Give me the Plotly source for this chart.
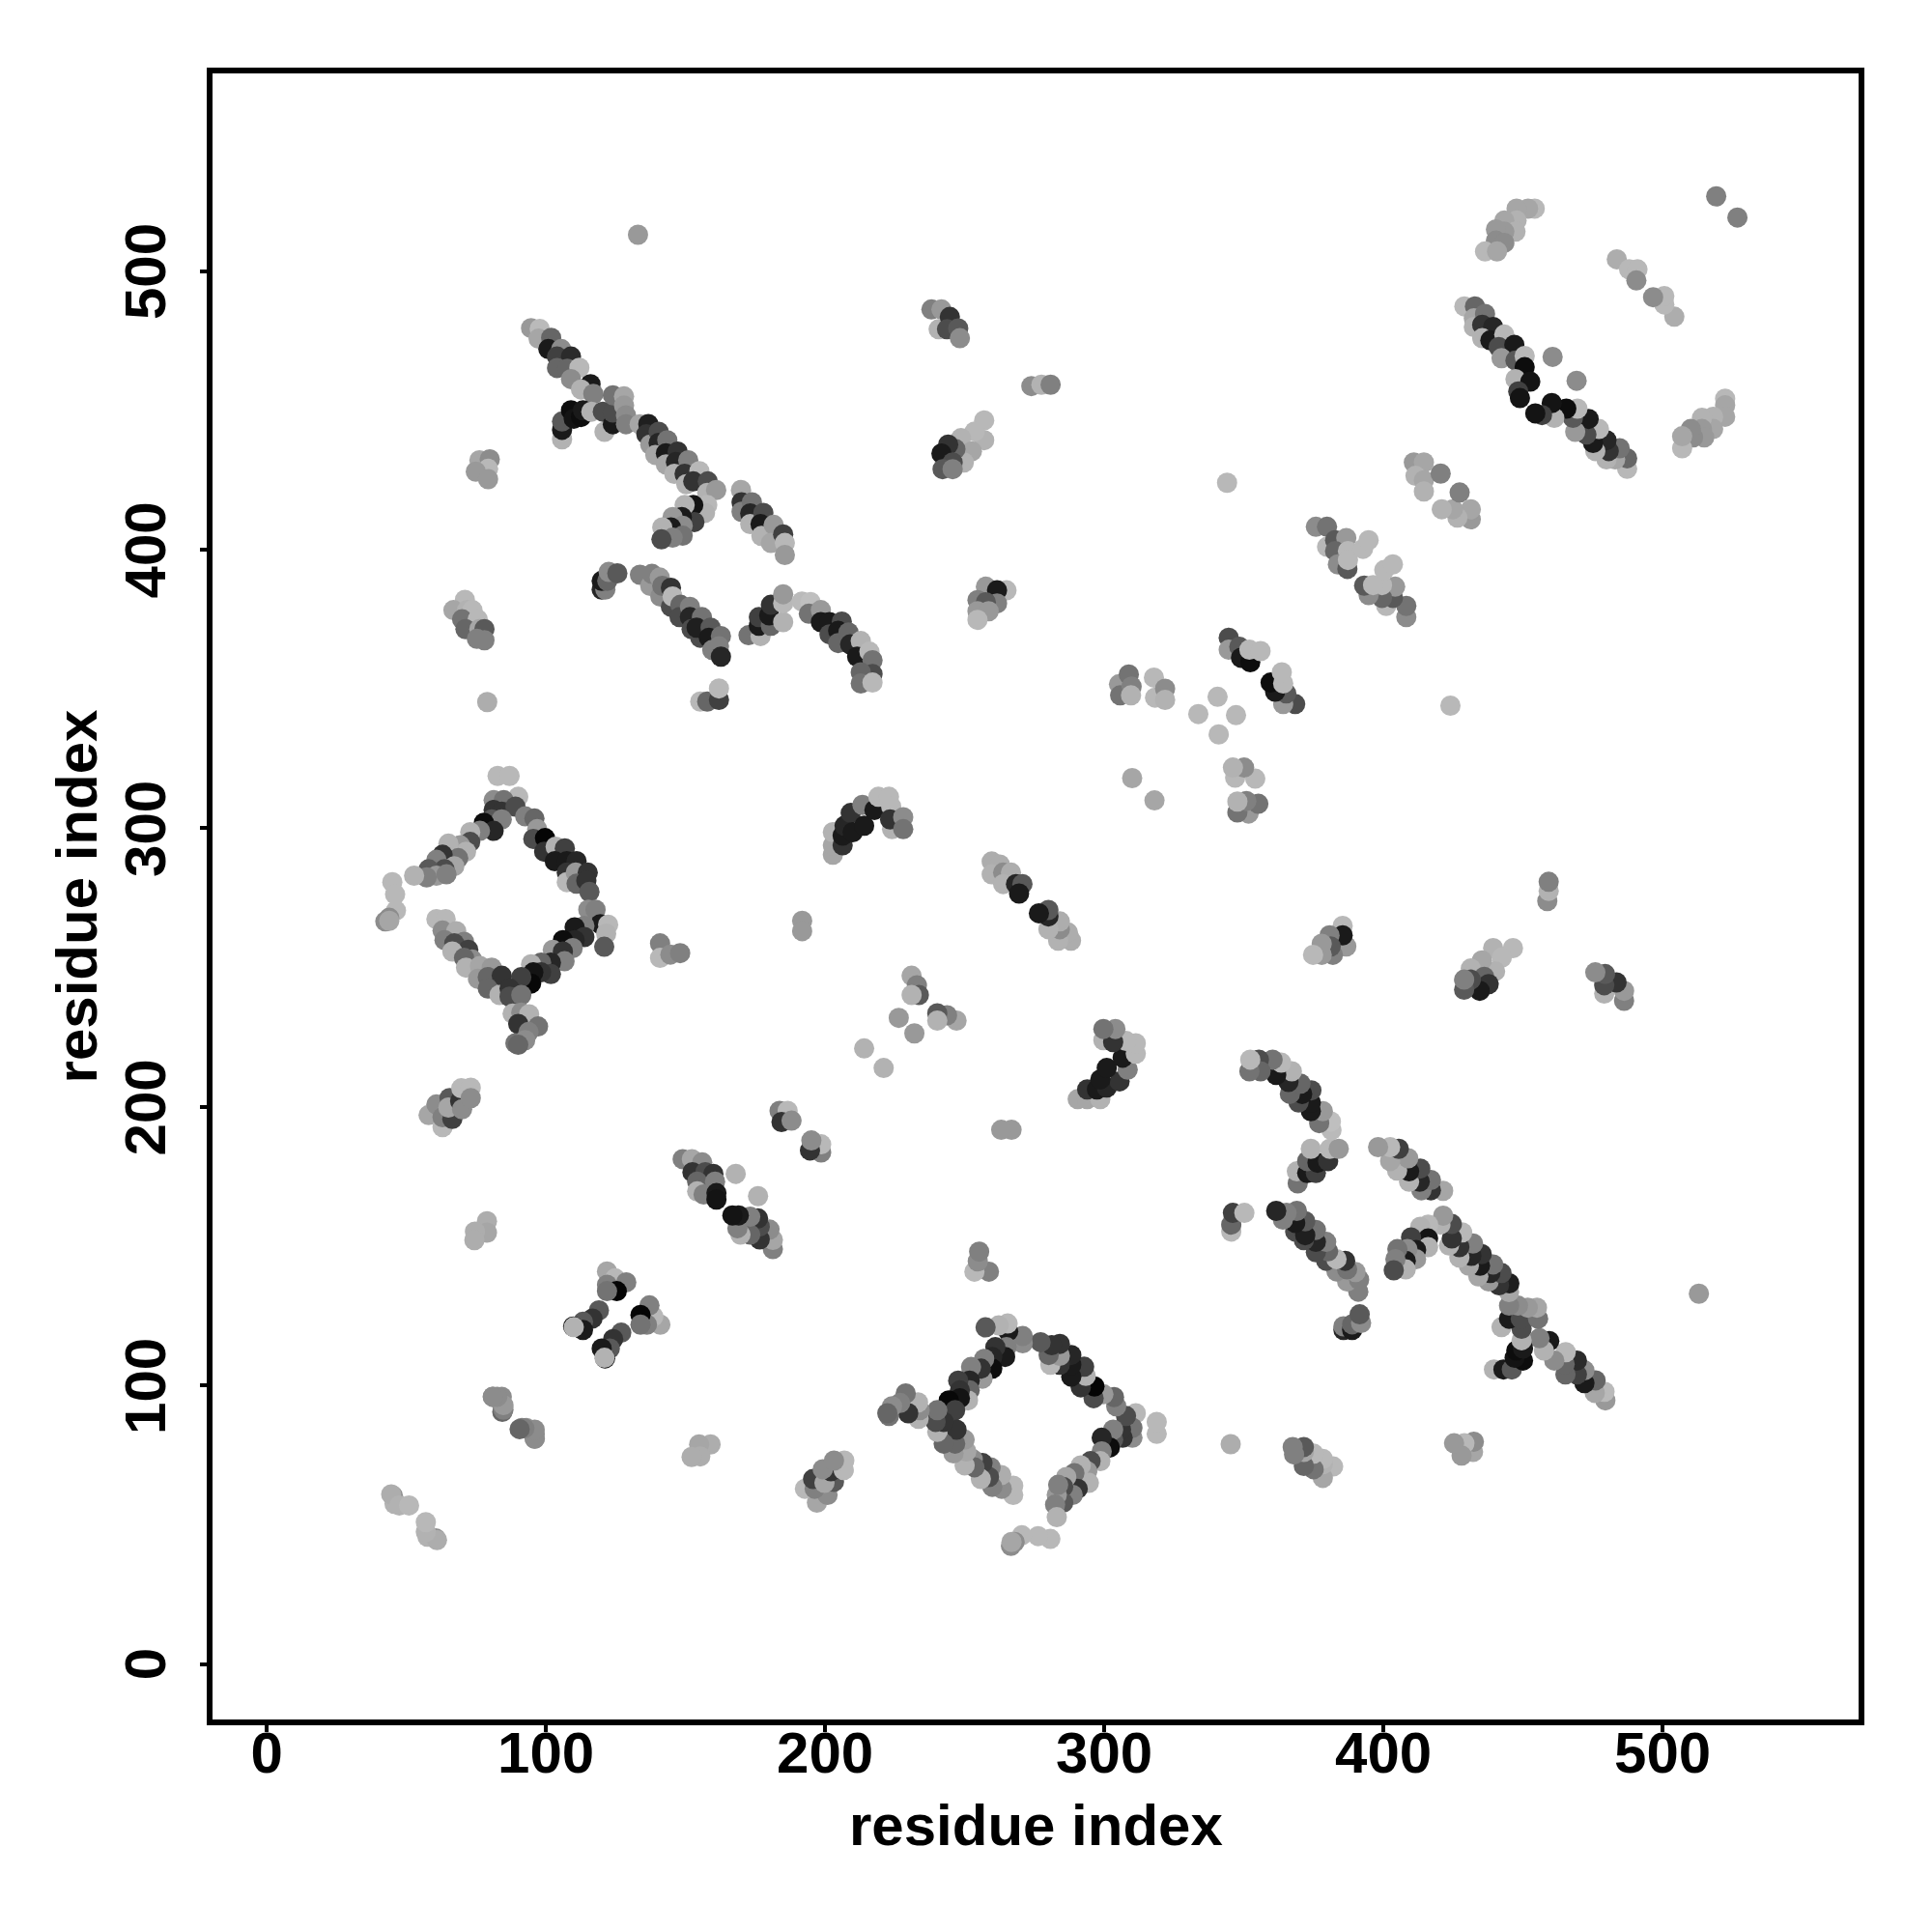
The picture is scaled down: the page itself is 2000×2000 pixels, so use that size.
import plotly.graph_objects as go

# Upper-triangle contacts as (residue_i, residue_j, shade); the map is symmetric.
streak_a = [(94.7,479.5,.6),(97.8,479.2,.73),(97.4,475.7,.65),(101.9,476,.4),(100.9,472,.1),(105.5,472,.55),(104,469.3,.25),(109,469.3,.17),(104,465.2,.4),(107.7,464.9,.4),(112,465.3,.72),(109,461.2,.55),(116,459.4,.1),(112.6,457.5,.7),(117,455.9,.5)]
knot_a = [(105.8,439.6,.7),(105.8,443,.1),(105.8,446,.35),(109,450,.05),(110,447,.08),(112.6,447.6,.05),(113.3,450,.1),(116.3,449.5,.7),(121,442.3,.7),(120.4,449.5,.3),(124,445,.1),(124,449.2,.3),(124,455.4,.45),(128,455,.65),(128,451.7,.6),(128.7,448.2,.55),(128.7,445,.5),(133.6,445,.65)]
streak_b = [(136.7,445.1,.12),(136,441.4,.2),(137.4,437.7,.6),(140.4,442.3,.3),(140.4,438.3,.15),(139.2,434,.65),(143.5,439.3,.45),(143,434.6,.1),(147.2,435.2,.2),(143,430.6,.65),(146.6,431.5,.15),(151,432.1,.5),(146,427.2,.7),(149.7,427.2,.2),(155,428.2,.72),(150.3,423.5,.7),(152.8,424.5,.2),(158,424.5,.3),(157.8,420.4,.7),(161,421.4,.6)]
cluster_c = [(157.8,416,.72),(157,413.2,.7),(152.8,416,.08),(149.7,416,.7),(153.2,409.9,.25),(148.7,411.7,.1),(145.4,411.7,.6),(149,408.6,.55),(144.8,408,.1),(141.7,408,.7),(149,405,.45),(145.4,404.3,.5),(141.4,403.7,.3)]
streak_d = [(169.9,421.4,.65),(170.1,417,.2),(170.1,413.6,.5),(173.8,417,.45),(173.2,413,.15),(173.2,409.2,.7),(177.9,413.2,.3),(176.9,409.2,.1),(177.2,404.9,.7),(181.6,408.9,.6),(180.6,402.4,.65),(185,405.5,.25),(185.6,402.4,.72),(185.6,398.1,.6)]
small_top = [(76.2,432.1,.65),(79.9,432.4,.55),(79.3,429,.72),(74.9,428,.6),(79.3,425.3,.6),(133,513,.6),(79,345.3,.68)]
small_left = [(71,382,.72),(66.9,378.3,.65),(71.8,378.3,.7),(73.7,378.3,.72),(70,375,.45),(75.6,375,.72),(71.2,371.5,.4),(76.2,371.5,.65),(78,371.5,.35),(75.3,368,.5),(78,367.5,.5)]
knot_e = [(120,385.7,.15),(121.3,385.7,.5),(120,388.8,.1),(122,388.8,.4),(122.5,392,.55),(125.6,391.5,.35)]
streak_e = [(133.7,391,.5),(137.4,387,.6),(138,391.3,.5),(140.8,390,.6),(141,383.2,.55),(141.7,387,.45),(144.8,386.3,.2),(144.8,379.5,.3),(145.4,383.2,.72),(148.2,380.2,.4),(147.9,375.8,.3),(151.6,379.5,.5),(151.6,375.8,.15),(155.9,375.8,.45),(152.2,371.5,.3),(155.3,368.4,.3),(154,372,.12),(159,372,.35),(158.4,368.4,.1),(159.6,364,.5),(162.7,369,.45),(162,365.3,.5),(162.7,361.6,.15)]
rise_f = [(172.6,369.3,.45),(176.9,369,.7),(176.3,372.7,.1),(176.3,375.8,.25),(180.6,372.7,.4),(180,376.4,.1),(180.6,380.2,.2),(185,374,.7),(185,380.8,.72),(185,384,.6)]
streak_f = [(191.7,381.4,.73),(194.8,381.2,.75),(194.2,377,.45),(198.5,378.3,.6),(198.5,374,.1),(201.6,374,.1),(206,374.2,.3),(201.6,369.6,.3),(204.7,370.9,.1),(204.7,366.5,.4),(208.4,370.3,.4),(209,366,.15),(212.8,367.2,.7),(211.5,361.6,.1),(215.9,363.4,.72),(217,360.3,.45),(217,355.4,.3),(212.8,356,.4),(212.8,352,.45),(217,352.3,.72)]
foot_f = [(155.3,345.5,.72),(157.8,345.5,.4),(162,346.1,.25),(162,350.2,.72)]
cluster_g = [(238.1,486.2,.5),(241.7,486.2,.6),(240.7,479.1,.7),(244.7,483.5,.2),(243.7,479.1,.3),(247.7,479.4,.35),(248.3,475.9,.55)]
row_h = [(273.9,458.7,.55),(277.5,459.2,.7),(280.8,459.2,.5),(344,424,.72)]
cluster_h = [(257,446.4,.72),(257,439.3,.7),(253.6,442.4,.72),(248.7,440,.7),(252.6,435.3,.65),(249.7,431.3,.7),(246.7,436.1,.4),(244.1,437.7,.2),(241.7,434.5,.1),(245.7,431.3,.3),(242.1,428.9,.35),(245.7,428.9,.5)]
cluster_i = [(454.2,522.4,.72),(451.8,522.4,.65),(447.7,522.4,.65),(447.7,518.1,.7),(443.3,518.1,.65),(447.3,514.1,.7),(443.3,514.1,.6),(440.3,514.9,.6),(440.3,510.9,.55),(443.3,510.1,.55),(436.4,507,.72),(440.7,507,.65),(519.2,526.8,.5),(483.6,504.2,.68),(488,500.6,.72),(491,500.6,.72),(490.6,496.6,.55)]
streak_k = [(429,487.3,.72),(432.8,487.3,.4),(432.4,483,.65),(436.4,484.6,.45),(432.4,479.9,.7),(435.4,480.7,.2),(439.3,479.9,.15),(435.4,475.9,.7),(438.3,475.1,.1),(443.3,477.2,.72),(441.3,472.7,.3),(446.9,473.5,.1),(442.3,468.7,.6),(447.3,467.9,.35),(450.6,469.5,.72),(450.6,465.5,.05),(447.3,461.2,.7),(452.6,460.3,.08),(448.3,456.8,.25),(448.9,454.4,.08),(460.6,469.2,.55)]
cluster_m = [(410.9,431.3,.6),(414.5,431.3,.65),(411.5,426.5,.7),(414.5,424.9,.65),(420.5,427.3,.5),(414.5,420.9,.7)]
cluster_n = [(375.8,408.2,.55),(379.8,408.2,.45),(379.8,401,.72),(382.7,403.4,.35),(386.7,404.2,.6),(382.7,399.5,.4),(387.3,399.5,.72),(383.7,394.7,.55),(387.1,393.1,.35),(387.3,396.3,.72),(392.7,400.3,.72),(394.7,403.4,.72)]
cluster_o = [(257.6,386.7,.6),(265,385.4,.72),(261.6,385.4,.1),(254.6,381.9,.5),(261.6,380.7,.5),(257.6,381.1,.35),(254.6,377.9,.6),(258.6,377.9,.6),(254.6,374.8,.72)]
cluster_p = [(344.6,368.4,.3),(344.6,364.1,.6),(348.4,365.2,.35),(349,361.2,.1),(352.3,359.6,.05),(352,364.1,.72),(356,363.6,.72)]
cluster_q = [(305.3,351.7,.6),(308.8,355.2,.45),(305.7,347.7,.45),(309.8,350.9,.5),(309.6,347.7,.7),(317.8,354.1,.72),(318.2,346.9,.72),(321.8,350.1,.55),(321.8,346.1,.7)]
singles_q = [(340.6,347.2,.72),(333.7,341,.72),(310,318,.65),(214,221,.7),(226.4,232,.6),(191.8,266.8,.6),(191.8,263.1,.6)]
diamond_top = [(82.7,318.8,.72),(87,318.8,.72),(90.1,311.3,.72),(81.3,310.1,.55),(84.9,310.1,.45),(81.3,306.6,.2),(84.2,306,.2),(89.1,307.8,.3),(80.6,303.2,.35),(84.2,303.2,.5),(77.8,302,.05),(81.3,299.1,.15),(76.4,299.1,.5),(72.9,298.6,.7),(72.9,295.1,.3),(69.3,293.9,.6),(65.1,294.5,.7),(71.4,291.6,.7),(68.6,289.3,.45),(63,290.5,.2),(60.8,288.7,.5),(67.2,286.4,.65),(63.7,285.3,.3),(58,285.3,.35),(60.8,283,.6),(64.4,283.5,.5),(57.3,282.4,.5),(52.8,283,.7)]
diamond_tip = [(45,280.7,.72),(46,276.3,.72),(46.3,270.5,.72),(43.9,267.9,.55),(42.5,266.6,.55),(43.9,266.8,.65)]
diamond_right = [(92.6,304.3,.5),(95.9,303.5,.4),(96.9,299.7,.6),(95.5,296.2,.3),(99.7,296.5,.02),(99.4,291.6,.2),(103.5,293.4,.7),(106.8,292.8,.25),(103.2,288.2,.1),(107.5,288.2,.1),(111,288.2,.15),(107.5,284.1,.2),(107.5,280.7,.72),(110.7,284.1,.6),(115,284.1,.2),(111,280.1,.4),(114.5,281.2,.2),(115.6,277.2,.35),(115.2,270.8,.55),(117.8,270.8,.5)]
diamond_low_right = [(119.5,265.6,.1),(122.3,265.4,.72),(121.6,262.2,.7),(120.9,257.5,.35),(113.8,265,.5),(110.3,264.5,.1),(113.8,261,.2),(110.3,259.9,.15),(106.1,259.9,.05),(109.6,257,.5),(102.5,256.4,.6),(106.1,255.8,.2),(106.7,252.3,.5),(101.8,251.8,.15),(98.3,251.8,.4),(94.7,251.2,.7),(101.8,247.7,.25),(98.3,248.3,.2),(95.5,248.3,.08),(94.7,244.3,.03),(91.2,246.6,.25)]
diamond_low_left = [(60.8,267.4,.72),(64.1,267.4,.72),(63,263.3,.55),(67.9,263.1,.68),(63.7,259.9,.5),(70.7,259.3,.5),(67.2,258.7,.3),(72.2,256.4,.25),(66.5,255.8,.7),(73.6,252.9,.55),(70.7,253.5,.4),(71.4,250,.7),(76.4,250.6,.65),(80.6,250,.6),(75.7,246,.6),(79.2,246.6,.4),(84.2,247.1,.2),(79.2,242.5,.4),(83.4,240.2,.7),(87,242.5,.2),(87,239.6,.3),(91.2,240.2,.45)]
diamond_tail = [(88.1,233.5,.7),(91.2,233.9,.55),(94,233.3,.7),(90.1,229.8,.2),(97.2,228.9,.45),(93.8,226.9,.5),(89.1,222.9,.45),(92.6,224,.55),(90.1,222.3,.4)]
arc_r = [(202.8,290.5,.65),(202.8,293.9,.65),(202.8,298.6,.7),(206.3,293.9,.2),(206.3,297.4,.1),(207,300.9,.15),(209.2,305.5,.2),(209.9,298.6,.1),(214,300.9,.1),(213.4,308.4,.5),(217.7,306.6,.1),(219.1,311.3,.72),(222.9,311.3,.72),(223.7,307.8,.72),(224,299.7,.7),(223.3,303.2,.2),(228,304,.55),(228,299.7,.45)]
small_mid = [(140.9,258.7,.5),(140.9,253.5,.72),(144.6,254.7,.55),(148.1,255.2,.5),(231,247.1,.65),(232.9,243.7,.5),(233.6,240.2,.35),(231,240.2,.7),(183.7,198.6,.5),(186.6,198.6,.72),(184.4,194.6,.2),(188,195.1,.55)]
cluster_low = [(58,197.1,.65),(60.8,200.9,.55),(63,192.8,.72),(63,196.3,.5),(65.5,203.2,.35),(66.5,195.7,.25),(65.1,199.8,.65),(69.3,202.1,.2),(70,199.2,.55),(69.7,206.7,.72),(73.1,206.9,.72),(73.1,203.2,.55)]
cluster_s = [(149,181.3,.5),(152.3,181.3,.65),(156,180.1,.55),(152.5,176.6,.2),(157.1,176.6,.3),(160,176,.2),(154.2,173.2,.4),(160.6,173.2,.5),(154.2,169.7,.7),(156.5,168.6,.5),(161.1,169.1,.1),(161.1,166.8,.08),(168,176,.7)]
cluster_t = [(121.9,141,.65),(124.8,138.5,.72),(128.8,137.1,.5),(121.9,136.2,.5),(125.4,133.9,.02),(121.9,133.9,.45),(119,127,.35),(116.7,124.1,.2),(113.3,122.9,.35),(113.3,120,.1),(109.8,121.2,.02),(110,121,.7)]
small_low = [(78.9,159,.68),(78.9,154.9,.65),(74.6,155.3,.68),(74.4,152.2,.68),(81,96,.55),(84.2,96,.55),(84.7,92.3,.5),(84.4,90.6,.4),(91.4,84.8,.5),(93,84.8,.6),(96,82.6,.55),(96,81,.55)]
corner = [(45.2,60.5,.55),(45.8,57.6,.7),(44.6,61,.68),(47.5,57,.7),(51,57,.72)]
streak_w = [(259.7,288.1,.68),(262.6,287,.68),(259.7,283.5,.7),(263.8,284.1,.55),(266.6,284.1,.68),(263.8,280,.7),(268.4,280,.15),(270.7,280,.35),(269.5,276.6,.1)]
axis_ticks = [0, 100, 200, 300, 400, 500]
axis_label = "residue index"

groups = [streak_a, knot_a, streak_b, cluster_c, streak_d, small_top, small_left, knot_e, streak_e, rise_f,
          streak_f, foot_f, cluster_g, row_h, cluster_h, cluster_i, streak_k, cluster_m, cluster_n, cluster_o,
          cluster_p, cluster_q, singles_q, diamond_top, diamond_tip, diamond_right, diamond_low_right,
          diamond_low_left, diamond_tail, arc_r, small_mid, cluster_low, cluster_s, cluster_t, small_low,
          corner, streak_w]
contacts = [c for g in groups for c in g]
xs = [c[0] for c in contacts] + [c[1] for c in contacts]
ys = [c[1] for c in contacts] + [c[0] for c in contacts]
shades = [c[2] for c in contacts] * 2
colors = [f"rgb({round(s*255)},{round(s*255)},{round(s*255)})" for s in shades]

fig = go.Figure(go.Scatter(x=xs, y=ys, mode="markers", showlegend=False,
                           marker=dict(size=21, color=colors, line=dict(width=0))))
font = dict(family="Liberation Sans", size=60, color="black", weight="bold")
axis = dict(tickvals=axis_ticks, ticks="outside", ticklen=7, tickwidth=4, tickcolor="black",
            showgrid=False, zeroline=False, showline=True, mirror=True, linecolor="black", linewidth=6,
            tickfont=font, automargin=False)
fig.update_xaxes(range=[-19.4, 570.2], ticklabelstandoff=-30, **axis)
fig.update_yaxes(range=[-19.8, 570.9], showticklabels=False, **axis)
y_tick_labels = [dict(text=str(t), xref="paper", yref="y", x=-0.0408, y=t, xanchor="center", yanchor="middle",
                      textangle=-90, showarrow=False, font=font) for t in axis_ticks]
fig.update_layout(width=2000, height=2000, margin=dict(l=220, r=76, t=76, b=220),
                  paper_bgcolor="white", plot_bgcolor="white",
                  annotations=y_tick_labels + [
                      dict(text=axis_label, xref="paper", yref="paper", x=0.5, y=-0.0645, yanchor="middle", xanchor="center", showarrow=False, font=font),
                      dict(text=axis_label, xref="paper", yref="paper", x=-0.0825, y=0.5, yanchor="middle", xanchor="center", textangle=-90, showarrow=False, font=font),
                  ])
fig.write_html("out.html", config={"displayModeBar": False}, post_script="document.body.style.margin='0';")
